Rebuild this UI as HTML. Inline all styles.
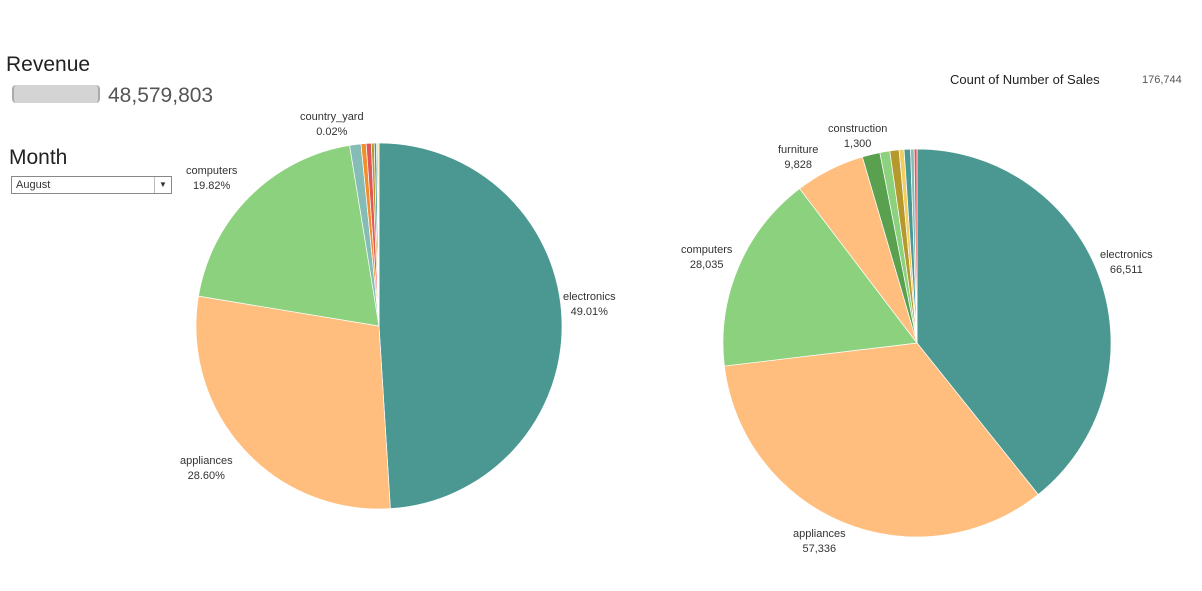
<!DOCTYPE html>
<html><head><meta charset="utf-8"><style>
body{margin:0;width:1202px;height:591px;background:#fff;font-family:"Liberation Sans",sans-serif;overflow:hidden;position:relative}
.t{position:absolute;color:#333}
.lbl{position:absolute;font-size:11px;color:#333;text-align:center;line-height:15px}
</style></head><body>
<div class="t" style="left:6px;top:53px;font-size:21px;color:#222">Revenue</div>
<div style="position:absolute;left:12px;top:85px;width:88px;height:18px;background:#d4d4d4;border-left:2px solid #aaa;border-right:2px solid #aaa;border-radius:4px;box-sizing:border-box"></div>
<div class="t" style="left:108px;top:84px;font-size:21px;color:#555">48,579,803</div>
<div class="t" style="left:9px;top:146px;font-size:21px;color:#222">Month</div>
<div style="position:absolute;left:11px;top:176px;width:161px;height:18px;border:1px solid #888;box-sizing:border-box;font-size:11px;color:#333;padding:2px 4px">August<span style="position:absolute;right:0;top:0;width:16px;height:16px;border-left:1px solid #bbb;text-align:center;font-size:8px;line-height:16px">▼</span></div>
<div class="t" style="left:950px;top:72px;font-size:13px;color:#222">Count of Number of Sales</div>
<div class="t" style="left:1142px;top:74px;font-size:11px;color:#555">176,744</div>
<svg id="svg" width="1202" height="591" style="position:absolute;left:0;top:0"></svg>
<div class="lbl" style="left:300px;top:110px">country_yard<br>0.02%</div>
<div class="lbl" style="left:186px;top:164px">computers<br>19.82%</div>
<div class="lbl" style="left:563px;top:290px">electronics<br>49.01%</div>
<div class="lbl" style="left:180px;top:454px">appliances<br>28.60%</div>
<div class="lbl" style="left:828px;top:122px">construction<br>1,300</div>
<div class="lbl" style="left:778px;top:143px">furniture<br>9,828</div>
<div class="lbl" style="left:681px;top:243px">computers<br>28,035</div>
<div class="lbl" style="left:1100px;top:248px">electronics<br>66,511</div>
<div class="lbl" style="left:793px;top:527px">appliances<br>57,336</div>
<script>
const leftCats=["electronics","appliances","computers","other1","other2","other3","other4","other5","other6","other7","country_yard"];
const leftVals=[49.01,28.60,19.82,1.0,0.45,0.45,0.25,0.2,0.1,0.1,0.02];
const leftColors=["#4a9891","#ffbe7d","#8cd17d","#86bcb6","#f28e2b","#e15759","#b6992d","#499894","#59a14f","#f1ce63","#d4a6c8"];
const rightCats=["electronics","appliances","computers","furniture","other1","other2","construction","other3","other4","other5","other6"];
const rightVals=[66511,57336,28035,9828,2500,1400,1300,700,900,500,400];
const rightColors=["#4a9891","#ffbe7d","#8cd17d","#ffbe7d","#59a14f","#8cd17d","#b6992d","#f1ce63","#499894","#86bcb6","#e15759"];
const svg=document.getElementById('svg');
function pie(cx,cy,r,cats,vals,colors,prefix){
  const tot=vals.reduce((a,b)=>a+b,0);let a=0;
  vals.forEach((v,i)=>{
    const a0=a/tot*2*Math.PI,a1=(a+v)/tot*2*Math.PI;a+=v;
    const x0=cx+r*Math.sin(a0),y0=cy-r*Math.cos(a0),x1=cx+r*Math.sin(a1),y1=cy-r*Math.cos(a1);
    const p=document.createElementNS('http://www.w3.org/2000/svg','path');
    p.setAttribute('d',`M${cx},${cy}L${x0},${y0}A${r},${r} 0 ${a1-a0>Math.PI?1:0} 1 ${x1},${y1}Z`);
    p.setAttribute('fill',colors[i]);p.setAttribute('stroke','#fff');p.setAttribute('stroke-width','0.7');
    
    
    svg.appendChild(p);
  });
}
pie(379,326,183,leftCats,leftVals,leftColors,'revenue');
pie(917,343,194,rightCats,rightVals,rightColors,'count');
</script>
</body></html>
